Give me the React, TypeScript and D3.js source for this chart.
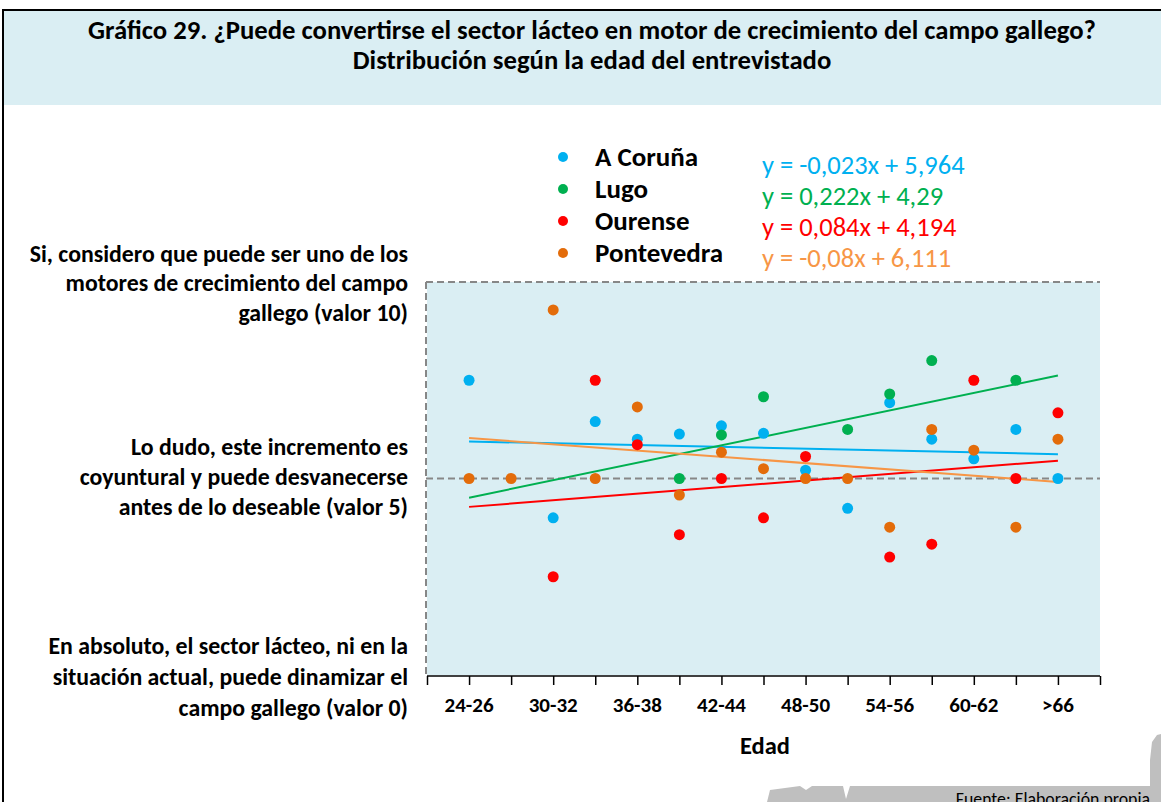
import React, { Component } from "react";
import * as d3 from "d3";

// age groups on the x axis (x = 1..15), only every other one gets a label
const ageGroups = ["24-26", "27-29", "30-32", "33-35", "36-38", "39-41", "42-44", "45-47", "48-50", "51-53", "54-56", "57-59", "60-62", "63-65", ">66"];

// mean answer per age group (0 - 10), null = no point
const coruna = [7.5, null, 4.0, 6.45, 6.0, 6.13, 6.34, 6.15, 5.21, 4.24, 6.93, 6.0, 5.5, 6.25, 5.0];
const lugo = [null, null, null, null, null, 5.0, 6.11, 7.08, null, 6.25, 7.15, 8.0, null, 7.5, null];
const ourense = [null, null, 2.5, 7.5, 5.86, 3.57, 5.0, 4.0, 5.56, null, 3.0, 3.33, 7.5, 5.0, 6.67];
const pontevedra = [5.0, 5.0, 9.29, 5.0, 6.82, 4.58, 5.67, 5.25, 5.0, 5.0, 3.76, 6.25, 5.72, 3.76, 6.0];

const provinces = ["A Coruña", "Lugo", "Ourense", "Pontevedra"];
const slopes = [-0.023, 0.222, 0.084, -0.08];
const intercepts = [5.964, 4.29, 4.194, 6.111];
const equations = ["y = -0,023x + 5,964", "y = 0,222x + 4,29", "y = 0,084x + 4,194", "y = -0,08x + 6,111"];

const yLevels = [10, 5, 0];
const yLevelLabels = [
  ["Si, considero que puede ser uno de los", "motores de crecimiento del campo", "gallego (valor 10)"],
  ["Lo dudo, este incremento es", "coyuntural y puede desvanecerse", "antes de lo deseable (valor 5)"],
  ["En absoluto, el sector lácteo, ni en la", "situación actual, puede dinamizar el", "campo gallego (valor 0)"]
];

const titleLines = [
  "Gráfico 29. ¿Puede convertirse el sector lácteo en motor de crecimiento del campo gallego?",
  "Distribución según la edad del entrevistado"
];

const dotColors = ["#00B0F0", "#00B050", "#FF0000", "#E36C0A"];
const lineColors = ["#00B0F0", "#00B050", "#FF0000", "#F79646"];
const FONT = "Carlito, Calibri, Lato, sans-serif";

class App extends Component {
  componentDidMount() {
    const svg = d3.select(".chart");
    svg.selectAll("*").remove();

    const x = d3.scaleLinear().domain([0, 16]).range([427, 1100]);
    const y = d3.scaleLinear().domain([0, 10]).range([675, 282]);

    // frame + title box
    svg.append("rect").attr("x", 3).attr("y", 11).attr("width", 1158).attr("height", 94).attr("fill", "#DAEEF3");
    svg.append("line").attr("x1", 3).attr("x2", 1161).attr("y1", 10).attr("y2", 10).attr("stroke", "#000").attr("stroke-width", 2);
    svg.append("line").attr("x1", 3).attr("x2", 3).attr("y1", 9).attr("y2", 802).attr("stroke", "#000").attr("stroke-width", 2);

    svg.selectAll(".title").data(titleLines).join("text").attr("class", "title")
      .attr("x", 592).attr("y", (d, i) => 39 + i * 30)
      .attr("text-anchor", "middle").style("font-family", FONT).style("font-weight", "bold").style("font-size", "26.7px")
      .text(d => d);

    // plot area
    svg.append("rect").attr("x", x(0)).attr("y", y(10)).attr("width", x(16) - x(0)).attr("height", y(0) - y(10)).attr("fill", "#DAEEF3");
    const dash = "7,4";
    svg.append("line").attr("x1", x(0) - 1).attr("x2", x(16)).attr("y1", y(10)).attr("y2", y(10))
      .attr("stroke", "#878787").attr("stroke-width", 2).attr("stroke-dasharray", dash);
    svg.append("line").attr("x1", x(0) - 1).attr("x2", x(16)).attr("y1", y(5)).attr("y2", y(5))
      .attr("stroke", "#878787").attr("stroke-width", 2).attr("stroke-dasharray", dash);
    svg.append("line").attr("x1", x(0) - 1).attr("x2", x(0) - 1).attr("y1", y(10)).attr("y2", y(0))
      .attr("stroke", "#878787").attr("stroke-width", 2).attr("stroke-dasharray", dash);

    // x axis
    svg.append("g").attr("transform", `translate(0,${y(0) + 1})`)
      .call(d3.axisBottom(x).ticks(16).tickSize(9).tickFormat(() => ""))
      .call(g => g.select(".domain").attr("stroke", "#000").attr("stroke-width", 1.5).attr("d", `M${x(0)},0H${x(16)}`))
      .call(g => g.selectAll(".tick line").attr("stroke", "#000").attr("stroke-width", 1.5));

    svg.selectAll(".xlab").data(ageGroups.filter((d, i) => i % 2 == 0)).join("text").attr("class", "xlab")
      .attr("x", (d, i) => x(i * 2 + 1)).attr("y", 712)
      .attr("text-anchor", "middle").style("font-family", FONT).style("font-weight", "bold").style("font-size", "21px")
      .text(d => d);

    svg.append("text").attr("x", 765).attr("y", 754).attr("text-anchor", "middle")
      .style("font-family", FONT).style("font-weight", "bold").style("font-size", "24.5px").text("Edad");

    // y labels
    const yOff = [9, 6, 10];
    const ySpace = [29.5, 30, 31];
    yLevels.forEach((lv, k) => {
      svg.append("g").selectAll("text").data(yLevelLabels[k]).join("text")
        .attr("x", 408).attr("y", (d, i) => y(lv) + yOff[k] + (i - 1) * ySpace[k])
        .attr("text-anchor", "end").style("font-family", FONT).style("font-weight", "bold").style("font-size", "23.8px")
        .text(d => d);
    });

    // trendlines
    svg.selectAll(".trend").data(slopes).join("line").attr("class", "trend")
      .attr("x1", x(1)).attr("x2", x(15))
      .attr("y1", (d, i) => y(d * 1 + intercepts[i])).attr("y2", (d, i) => y(d * 15 + intercepts[i]))
      .attr("stroke", (d, i) => lineColors[i]).attr("stroke-width", 2);

    // points
    [coruna, lugo, ourense, pontevedra].forEach((series, k) => {
      svg.append("g").selectAll("circle")
        .data(series.map((v, i) => ({ v, i })).filter(d => d.v != null))
        .join("circle")
        .attr("cx", d => x(d.i + 1)).attr("cy", d => y(d.v)).attr("r", 5.5)
        .attr("fill", dotColors[k]);
    });

    // legend
    const leg = svg.append("g");
    leg.selectAll("circle").data(provinces).join("circle")
      .attr("cx", 563).attr("cy", (d, i) => 157 + i * 32).attr("r", 5).attr("fill", (d, i) => dotColors[i]);
    leg.selectAll(".ltext").data(provinces).join("text").attr("class", "ltext")
      .attr("x", 595).attr("y", (d, i) => 166 + i * 32)
      .style("font-family", FONT).style("font-weight", "bold").style("font-size", "27px").text(d => d);
    leg.selectAll(".eq").data(equations).join("text").attr("class", "eq")
      .attr("x", 762).attr("y", (d, i) => 174 + i * 31)
      .attr("fill", (d, i) => lineColors[i])
      .style("font-family", FONT).style("font-size", "26.5px").text(d => d);

    // source note on grey map shape
    svg.append("path")
      .attr("d", "M767,802L770,790L800,786L806,790L812,786L843,786L846,799L850,786L1150,786L1150,760L1152,742L1157,735L1161,734L1161,802Z")
      .attr("fill", "#BFBFBF");
    svg.append("text").attr("x", 1150).attr("y", 805).attr("text-anchor", "end")
      .style("font-family", FONT).style("font-size", "17.8px").text("Fuente: Elaboración propia");
  }

  render() {
    return <svg className="chart" width={1161} height={802} style={{ position: "absolute", left: 0, top: 0, background: "#fff" }}></svg>;
  }
}

export default App;
